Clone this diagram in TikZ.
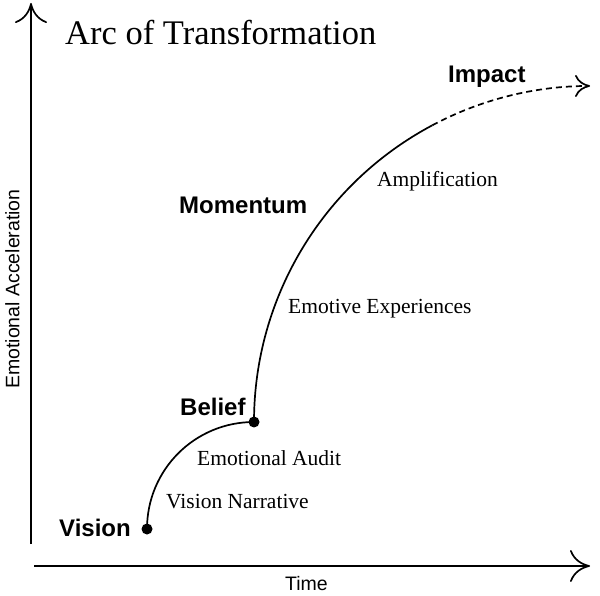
\documentclass[tikz,border=0pt]{standalone}
\usepackage{fontspec}
\setmainfont{Liberation Serif}
\setsansfont{Liberation Sans}
\usetikzlibrary{arrows.meta}
\begin{document}
\begin{tikzpicture}[x=1pt,y=1pt,
  axisline/.style={line width=1.7pt,-{Computer Modern Rightarrow[length=20pt,width=32pt]}},
  curveline/.style={line width=1.7pt},
  dashline/.style={line width=1.7pt,dash pattern=on 6pt off 4pt,-{Computer Modern Rightarrow[length=15pt,width=22pt]}},
  dot/.style={circle,fill=black,inner sep=0pt,minimum size=11pt},
  stagelabel/.style={anchor=base west,inner sep=0pt,font=\sffamily\bfseries\fontsize{24}{28}\selectfont},
  steplabel/.style={anchor=base west,inner sep=0pt,font=\rmfamily\fontsize{21.5}{25}\selectfont},
  axislabel/.style={inner sep=0pt,font=\sffamily\fontsize{19.5}{23}\selectfont},
  titletext/.style={anchor=base west,inner sep=0pt,font=\rmfamily\fontsize{34.5}{40}\selectfont}]
\useasboundingbox (0,0) rectangle (600,595);
% axes
\coordinate (ybot) at (31,51);
\coordinate (ytop) at (31,592);
\coordinate (xleft) at (34,29);
\coordinate (xright) at (590,29);
\draw[axisline] (ybot) -- (ytop);
\draw[axisline] (xleft) -- (xright);
\node[axislabel,anchor=base west] (time) at (285,5) {Time};
\node[axislabel,anchor=base,rotate=90] (eacc) at (19.5,306) {Emotional Acceleration};
% title
\node[titletext] (title) at (65,550) {Arc of Transformation};
% curve
\node[dot] (vision) at (147,66) {};
\node[dot] (belief) at (254,173) {};
\coordinate (split) at (432.3,469.7);
\coordinate (tip) at (590,509);
\draw[curveline] (vision.center) to[out=90,in=180] (belief.center);
\draw[curveline] (belief.center) arc[start angle=180,end angle=118,radius=336pt];
\draw[dashline] (split) arc[start angle=118,end angle=90,radius=336pt];
% stage labels
\node[stagelabel] (lvision) at (59,59) {Vision};
\node[stagelabel] (lbelief) at (180,179) {Belief};
\node[stagelabel] (lmomentum) at (179,381) {Momentum};
\node[stagelabel] (limpact) at (448,512) {Impact};
% step labels
\node[steplabel] (narr) at (166,87) {Vision Narrative};
\node[steplabel] (audit) at (197,129) {Emotional Audit};
\node[steplabel] (emot) at (288,281) {Emotive Experiences};
\node[steplabel] (ampl) at (377,408) {Amplification};
\end{tikzpicture}
\end{document}
